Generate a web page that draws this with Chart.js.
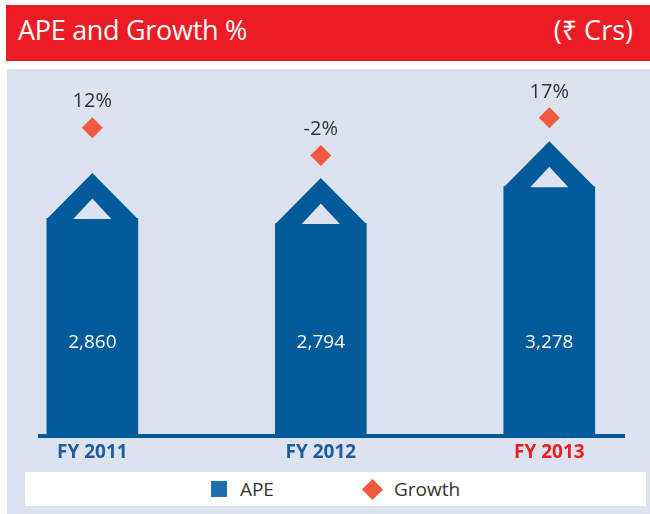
<!DOCTYPE html>
<html>
<head>
<meta charset="utf-8">
<script src="https://cdn.jsdelivr.net/npm/chart.js@4"></script>
<style>
  html, body { margin: 0; padding: 0; background: #ffffff; }
  body { width: 650px; height: 514px; position: relative; overflow: hidden; font-family: "Open Sans", "Noto Sans", sans-serif; }
  #hdr { position: absolute; left: 6px; top: 5px; width: 644px; height: 56px; background: #ED1C24; color: #ffffff; font-size: 27px; line-height: 50px; }
  #hdr .t { position: absolute; left: 12px; top: 0; letter-spacing: -0.3px; }
  #hdr .u { position: absolute; right: 17px; top: 0; }
  #panel { position: absolute; left: 7px; top: 69px; width: 643px; height: 445px; background: #DCE3EE; }
  #chart { position: absolute; left: 0; top: 0; }
  #legend { position: absolute; left: 25px; top: 472px; width: 621px; height: 34px; background: #ffffff;
            display: flex; justify-content: center; align-items: center; font-size: 19px; color: #333333; }
  #legend .item { display: flex; align-items: center; }
  #legend .sq { width: 16px; height: 16px; margin-right: 13px; }
  #legend .dm { width: 15px; height: 15px; transform: rotate(45deg); margin: 0 14px 0 3px; }
</style>
</head>
<body>
<div id="hdr"><span class="t">APE and Growth %</span><span class="u">(₹ Crs)</span></div>
<div id="panel"></div>
<canvas id="chart" width="650" height="514"></canvas>
<div id="legend"></div>
<script>
// ---- data ----
const categories = ["FY 2011", "FY 2012", "FY 2013"];
const apeValues = [2860, 2794, 3278];
const growthValues = [12, -2, 17];
const seriesNames = ["APE", "Growth"];

// ---- styles ----
const BAR_COLOR = "#015B9A";
const PANEL_BG = "#DCE3EE";
const DIAMOND_COLOR = "#F15A3F";
const LEGEND_BAR_COLOR = "#1F6EAE";
const TICK_BLUE = "#1D5D9E";
const TICK_RED = "#ED1C24";

const houseRoof = {
  id: "houseRoof",
  afterDatasetsDraw(chart) {
    const ctx = chart.ctx;
    const barMeta = chart.getDatasetMeta(0);
    barMeta.data.forEach((bar, i) => {
      const { x, y, width, base } = bar.getProps(["x", "y", "width", "base"], true);
      const h = width / 2;
      ctx.save();
      ctx.fillStyle = BAR_COLOR;
      ctx.beginPath();
      ctx.moveTo(x - h, y + 0.5);
      ctx.lineTo(x, y - h);
      ctx.lineTo(x + h, y + 0.5);
      ctx.closePath();
      ctx.fill();
      const ih = width * 0.209;
      ctx.fillStyle = PANEL_BG;
      ctx.beginPath();
      ctx.moveTo(x - ih, y + 0.5);
      ctx.lineTo(x, y - ih * 1.05);
      ctx.lineTo(x + ih, y + 0.5);
      ctx.closePath();
      ctx.fill();
      ctx.fillStyle = "#ffffff";
      ctx.font = '19px "Open Sans"';
      ctx.textAlign = "center";
      ctx.textBaseline = "middle";
      ctx.fillText(apeValues[i].toLocaleString("en-US"), x, base - 93);
      ctx.restore();
    });
    const ptMeta = chart.getDatasetMeta(1);
    ptMeta.data.forEach((pt, i) => {
      ctx.save();
      ctx.fillStyle = "#333333";
      ctx.font = '20px "Open Sans"';
      ctx.textAlign = "center";
      ctx.textBaseline = "middle";
      ctx.fillText(growthValues[i] + "%", pt.x, pt.y - 26);
      ctx.restore();
    });
  }
};

const chart = new Chart(document.getElementById("chart"), {
  data: {
    datasets: [
      {
        type: "bar",
        label: seriesNames[0],
        data: apeValues.map((v, i) => ({ x: i, y: v })),
        backgroundColor: BAR_COLOR,
        borderWidth: 0,
        barThickness: 91,
        yAxisID: "y",
        order: 2
      },
      {
        type: "line",
        label: seriesNames[1],
        data: growthValues.map((v, i) => ({ x: i, y: v })),
        showLine: false,
        pointStyle: "rectRot",
        pointRadius: 10.5,
        pointHoverRadius: 10.5,
        pointBackgroundColor: DIAMOND_COLOR,
        pointBorderWidth: 0,
        borderColor: DIAMOND_COLOR,
        yAxisID: "y2",
        order: 1
      }
    ]
  },
  options: {
    responsive: false,
    devicePixelRatio: 1,
    animation: false,
    layout: { padding: { left: 40, right: 26, top: 90, bottom: 45.4 } },
    plugins: { legend: { display: false }, tooltip: { enabled: false } },
    scales: {
      x: {
        type: "linear",
        offset: false,
        bounds: "data",
        min: -0.229,
        max: 2.327,
        afterBuildTicks: (s) => { s.ticks = categories.map((c, i) => ({ value: i })); },
        grid: { display: false, drawTicks: false, offset: false },
        border: { display: true, color: BAR_COLOR, width: 4 },
        ticks: {
          padding: 5,
          autoSkip: false,
          maxRotation: 0,
          font: { family: "Open Sans", size: 19, weight: "bold" },
          color: (ctx) => (ctx.index === categories.length - 1 ? TICK_RED : TICK_BLUE),
          callback: (v) => categories[v] ?? ""
        }
      },
      y: { display: false, min: 0, max: 4550 },
      y2: { display: false, min: -143, max: 31 }
    }
  },
  plugins: [houseRoof]
});

// HTML legend built from the chart's datasets
const legendEl = document.getElementById("legend");
const legendColors = [LEGEND_BAR_COLOR, DIAMOND_COLOR];
chart.data.datasets.forEach((ds, i) => {
  const item = document.createElement("div");
  item.className = "item";
  if (i > 0) item.style.marginLeft = "88px";
  const mark = document.createElement("span");
  mark.className = i === 0 ? "sq" : "dm";
  mark.style.background = legendColors[i];
  const txt = document.createElement("span");
  txt.textContent = ds.label;
  item.appendChild(mark);
  item.appendChild(txt);
  legendEl.appendChild(item);
});
</script>
</body>
</html>
